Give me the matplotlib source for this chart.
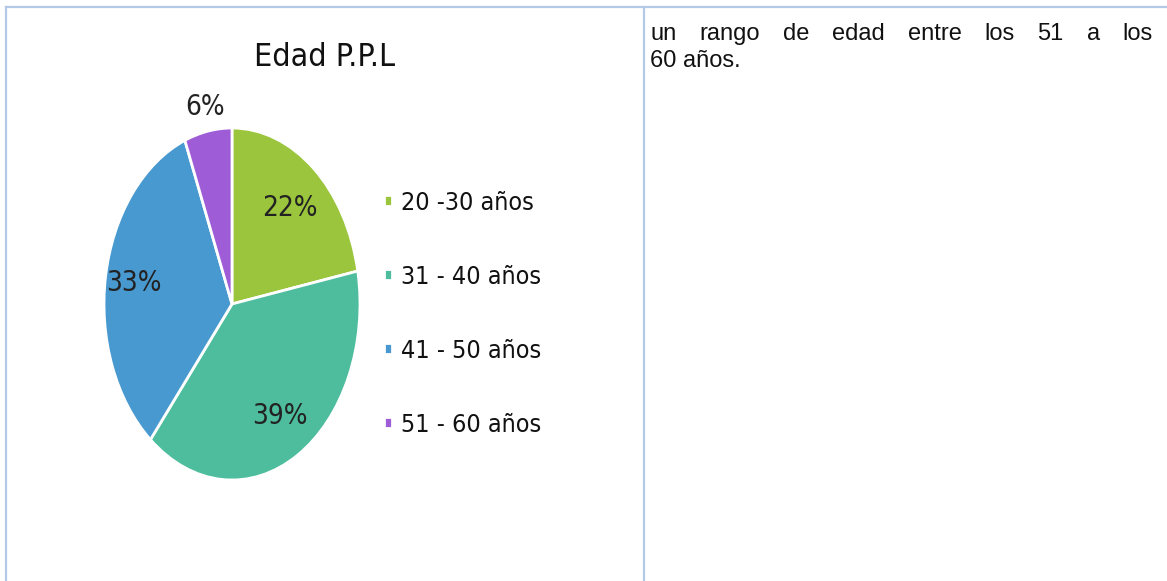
import matplotlib
matplotlib.use("Agg")
import matplotlib.pyplot as plt
from matplotlib.lines import Line2D
import numpy as np

# data
labels = ["20 -30 años", "31 - 40 años", "41 - 50 años", "51 - 60 años"]
values = [22, 39, 33, 6]
colors = ["#9BC53D", "#4DBD9D", "#4899CF", "#9E5CD6"]
pct_dist = [0.71, 0.74, 0.78, 1.14]   # where each % label sits (fraction of radius)

title = "Edad P.P.L"
side_text = ["un", "rango", "de", "edad", "entre", "los", "51", "a", "los"]
side_text2 = "60 años."

W, H = 1167, 581
narrow = dict(family="DejaVu Sans", stretch="condensed")

fig = plt.figure(figsize=(W / 100, H / 100), dpi=100)
fig.patch.set_facecolor("white")

# table borders
bc = "#B4C9E8"
fig.add_artist(Line2D([6 / W, 1], [1 - 7 / H, 1 - 7 / H], color=bc, lw=1.6, transform=fig.transFigure))
fig.add_artist(Line2D([6 / W, 6 / W], [0, 1 - 7 / H], color=bc, lw=1.6, transform=fig.transFigure))
fig.add_artist(Line2D([644 / W, 644 / W], [0, 1 - 7 / H], color=bc, lw=1.6, transform=fig.transFigure))

# pie (stretched vertically like the pasted picture)
cx, cy, rx, ry = 232, 304, 128, 176
ax = fig.add_axes([(cx - rx) / W, 1 - (cy + ry) / H, 2 * rx / W, 2 * ry / H])
wedges, texts, autotexts = ax.pie(values, colors=colors, startangle=90, counterclock=False,
                                  autopct="%d%%", pctdistance=0.7,
                                  wedgeprops=dict(edgecolor="white", linewidth=2),
                                  textprops=dict(fontsize=20, color="#222222", **narrow))
ax.set_aspect("auto")
ax.set_xlim(-1, 1)
ax.set_ylim(-1, 1)
for w, t, d in zip(wedges, autotexts, pct_dist):
    ang = np.deg2rad((w.theta1 + w.theta2) / 2)
    t.set_position((d * np.cos(ang), d * np.sin(ang)))
    t.set_ha("center")
    t.set_va("center")

fig.text(325 / W, 1 - 58 / H, title, ha="center", va="center", fontsize=23, color="#111111", **narrow)

leg = fig.legend(wedges, labels, loc="upper left", bbox_to_anchor=(362 / W, 1 - 168 / H),
                 frameon=False, handlelength=0.3, handleheight=0.3, handletextpad=0.35,
                 labelspacing=2.0, prop=dict(size=18, **narrow))
for t in leg.get_texts():
    t.set_color("#111111")

# justified first line on the right
fs = 17
x0, x1 = 650, 1153
fig.canvas.draw()
r = fig.canvas.get_renderer()
tw = []
for wd in side_text:
    t = fig.text(0, 0, wd, fontsize=fs, family="Liberation Sans")
    tw.append(t.get_window_extent(r).width)
    t.remove()
gap = (x1 - x0 - sum(tw)) / (len(side_text) - 1)
x = x0
for wd, w_ in zip(side_text, tw):
    fig.text(x / W, 1 - 40 / H, wd, fontsize=fs, family="Liberation Sans", va="baseline", color="#111111")
    x += w_ + gap
fig.text(x0 / W, 1 - 67 / H, side_text2, fontsize=fs, family="Liberation Sans", va="baseline", color="#111111")

fig.savefig("out.png", dpi=100, facecolor="white")
